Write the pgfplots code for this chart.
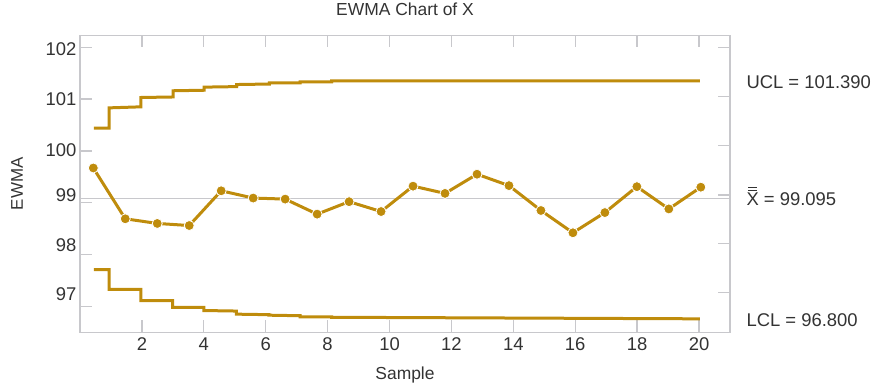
\documentclass[border=0pt]{standalone}
\usepackage{pgfplots}
\pgfplotsset{compat=1.18}
\usepackage{fontspec}
\setmainfont{Liberation Sans}
\definecolor{gold}{HTML}{BF8C0C}
\definecolor{axgray}{HTML}{C8C8CC}
\definecolor{txt}{HTML}{333333}
\newcommand{\dbarX}{\setbox0\hbox{X}\vbox{\offinterlineskip\hbox to\wd0{\hfil\vrule width 0.75\wd0 height 1.3bp\hfil}\kern1.6bp\hbox to\wd0{\hfil\vrule width 0.75\wd0 height 1.3bp\hfil}\kern1.8bp\box0}}
\pgfplotsset{
  common/.style={
    scale only axis,
    width=650bp, height=297bp,
    xmin=0, xmax=21, ymin=96.5, ymax=102.23,
    tick align=inside,
    major tick length=12bp,
    axis line style={axgray, line width=1.3bp},
    every tick/.style={axgray, line width=1.3bp},
    /pgf/number format/assume math mode=true,
    tick label style={font=\fontsize{18.5}{20}\selectfont, text=txt},
  }
}
\begin{document}
\begin{tikzpicture}
\begin{axis}[
  common,
  xtick={2,4,...,20}, ytick={97,98,...,102},
  xtick pos=both, xticklabel pos=bottom,
  ytick pos=left, yticklabels={},
  xticklabel style={yshift=-2bp},
  title={EWMA Chart of X},
  title style={font=\fontsize{17.5}{20}\selectfont, text=txt, at={(axis description cs:0.5,1.066)}, anchor=center},
  xlabel={Sample},
  xlabel style={font=\fontsize{17.5}{20}\selectfont, text=txt, at={(axis description cs:0.5,-0.144)}, anchor=center},
  ylabel={EWMA},
  ylabel style={font=\fontsize{17}{20}\selectfont, text=txt, at={(axis description cs:-0.097,0.5)}, anchor=center, rotate=0},
  clip=false,
]
% centre line
\addplot[axgray, line width=1.5bp] coordinates {(0,99.085) (21,99.085)};
% UCL
\addplot[gold, line width=3bp] coordinates {
(0.45,100.44)(0.94,100.44)(0.94,100.83)(1.97,100.85)(1.97,101.03)(3.01,101.04)
(3.01,101.16)(4.01,101.17)(4.01,101.23)(5.06,101.24)(5.06,101.28)(6.12,101.29)
(6.12,101.31)(7.11,101.31)(7.11,101.33)(8.13,101.33)(8.13,101.35)(20.03,101.35)};
% LCL
\addplot[gold, line width=3bp] coordinates {
(0.45,97.71)(0.94,97.71)(0.94,97.33)(1.97,97.33)(1.97,97.11)(2.99,97.11)
(2.99,96.98)(4.00,96.98)(4.00,96.92)(5.05,96.91)(5.05,96.85)(6.10,96.84)
(6.10,96.83)(7.11,96.82)(7.11,96.80)(8.13,96.80)(8.13,96.79)(20.03,96.76)};
% EWMA
\addplot[gold, line width=3bp, mark=*, mark size=5bp,
  mark options={fill=gold, draw=white, line width=0.8bp}] coordinates {
(0.430,99.67)(1.463,98.69)(2.496,98.60)(3.529,98.56)(4.562,99.23)
(5.595,99.09)(6.628,99.07)(7.661,98.78)(8.694,99.02)(9.727,98.83)
(10.760,99.32)(11.793,99.18)(12.826,99.55)(13.859,99.33)(14.892,98.85)
(15.925,98.42)(16.958,98.81)(17.991,99.31)(19.024,98.88)(20.057,99.30)};
\node[anchor=base west, font=\fontsize{18.5}{20}\selectfont, text=txt] at (axis cs:21,101.21) [xshift=13bp] {UCL = 101.390};
\node[anchor=base west, font=\fontsize{18.5}{20}\selectfont, text=txt] at (axis cs:21,98.94) [xshift=13bp] {\dbarX{} = 99.095};
\node[anchor=base west, font=\fontsize{18.5}{20}\selectfont, text=txt] at (axis cs:21,96.61) [xshift=13bp] {LCL = 96.800};
\end{axis}
% y tick labels (placed as in the reference)
\begin{axis}[
  common,
  hide x axis,
  axis line style={draw=none},
  ytick pos=left,
  major tick length=0bp,
  ytick={97.24,98.19,99.14,100.02,101.00,101.97},
  yticklabels={97,98,99,100,101,102},
]
\end{axis}
% right-hand ticks
\begin{axis}[
  common,
  hide x axis,
  axis y line*=right,
  axis line style={axgray, line width=1.3bp, -},
  ytick={97.27,98.216,99.149,100.1,101.054,102},
  yticklabels={},
]
\end{axis}
\path[use as bounding box] (-80bp,-56bp) rectangle (799bp,330bp);
\end{tikzpicture}
\end{document}
